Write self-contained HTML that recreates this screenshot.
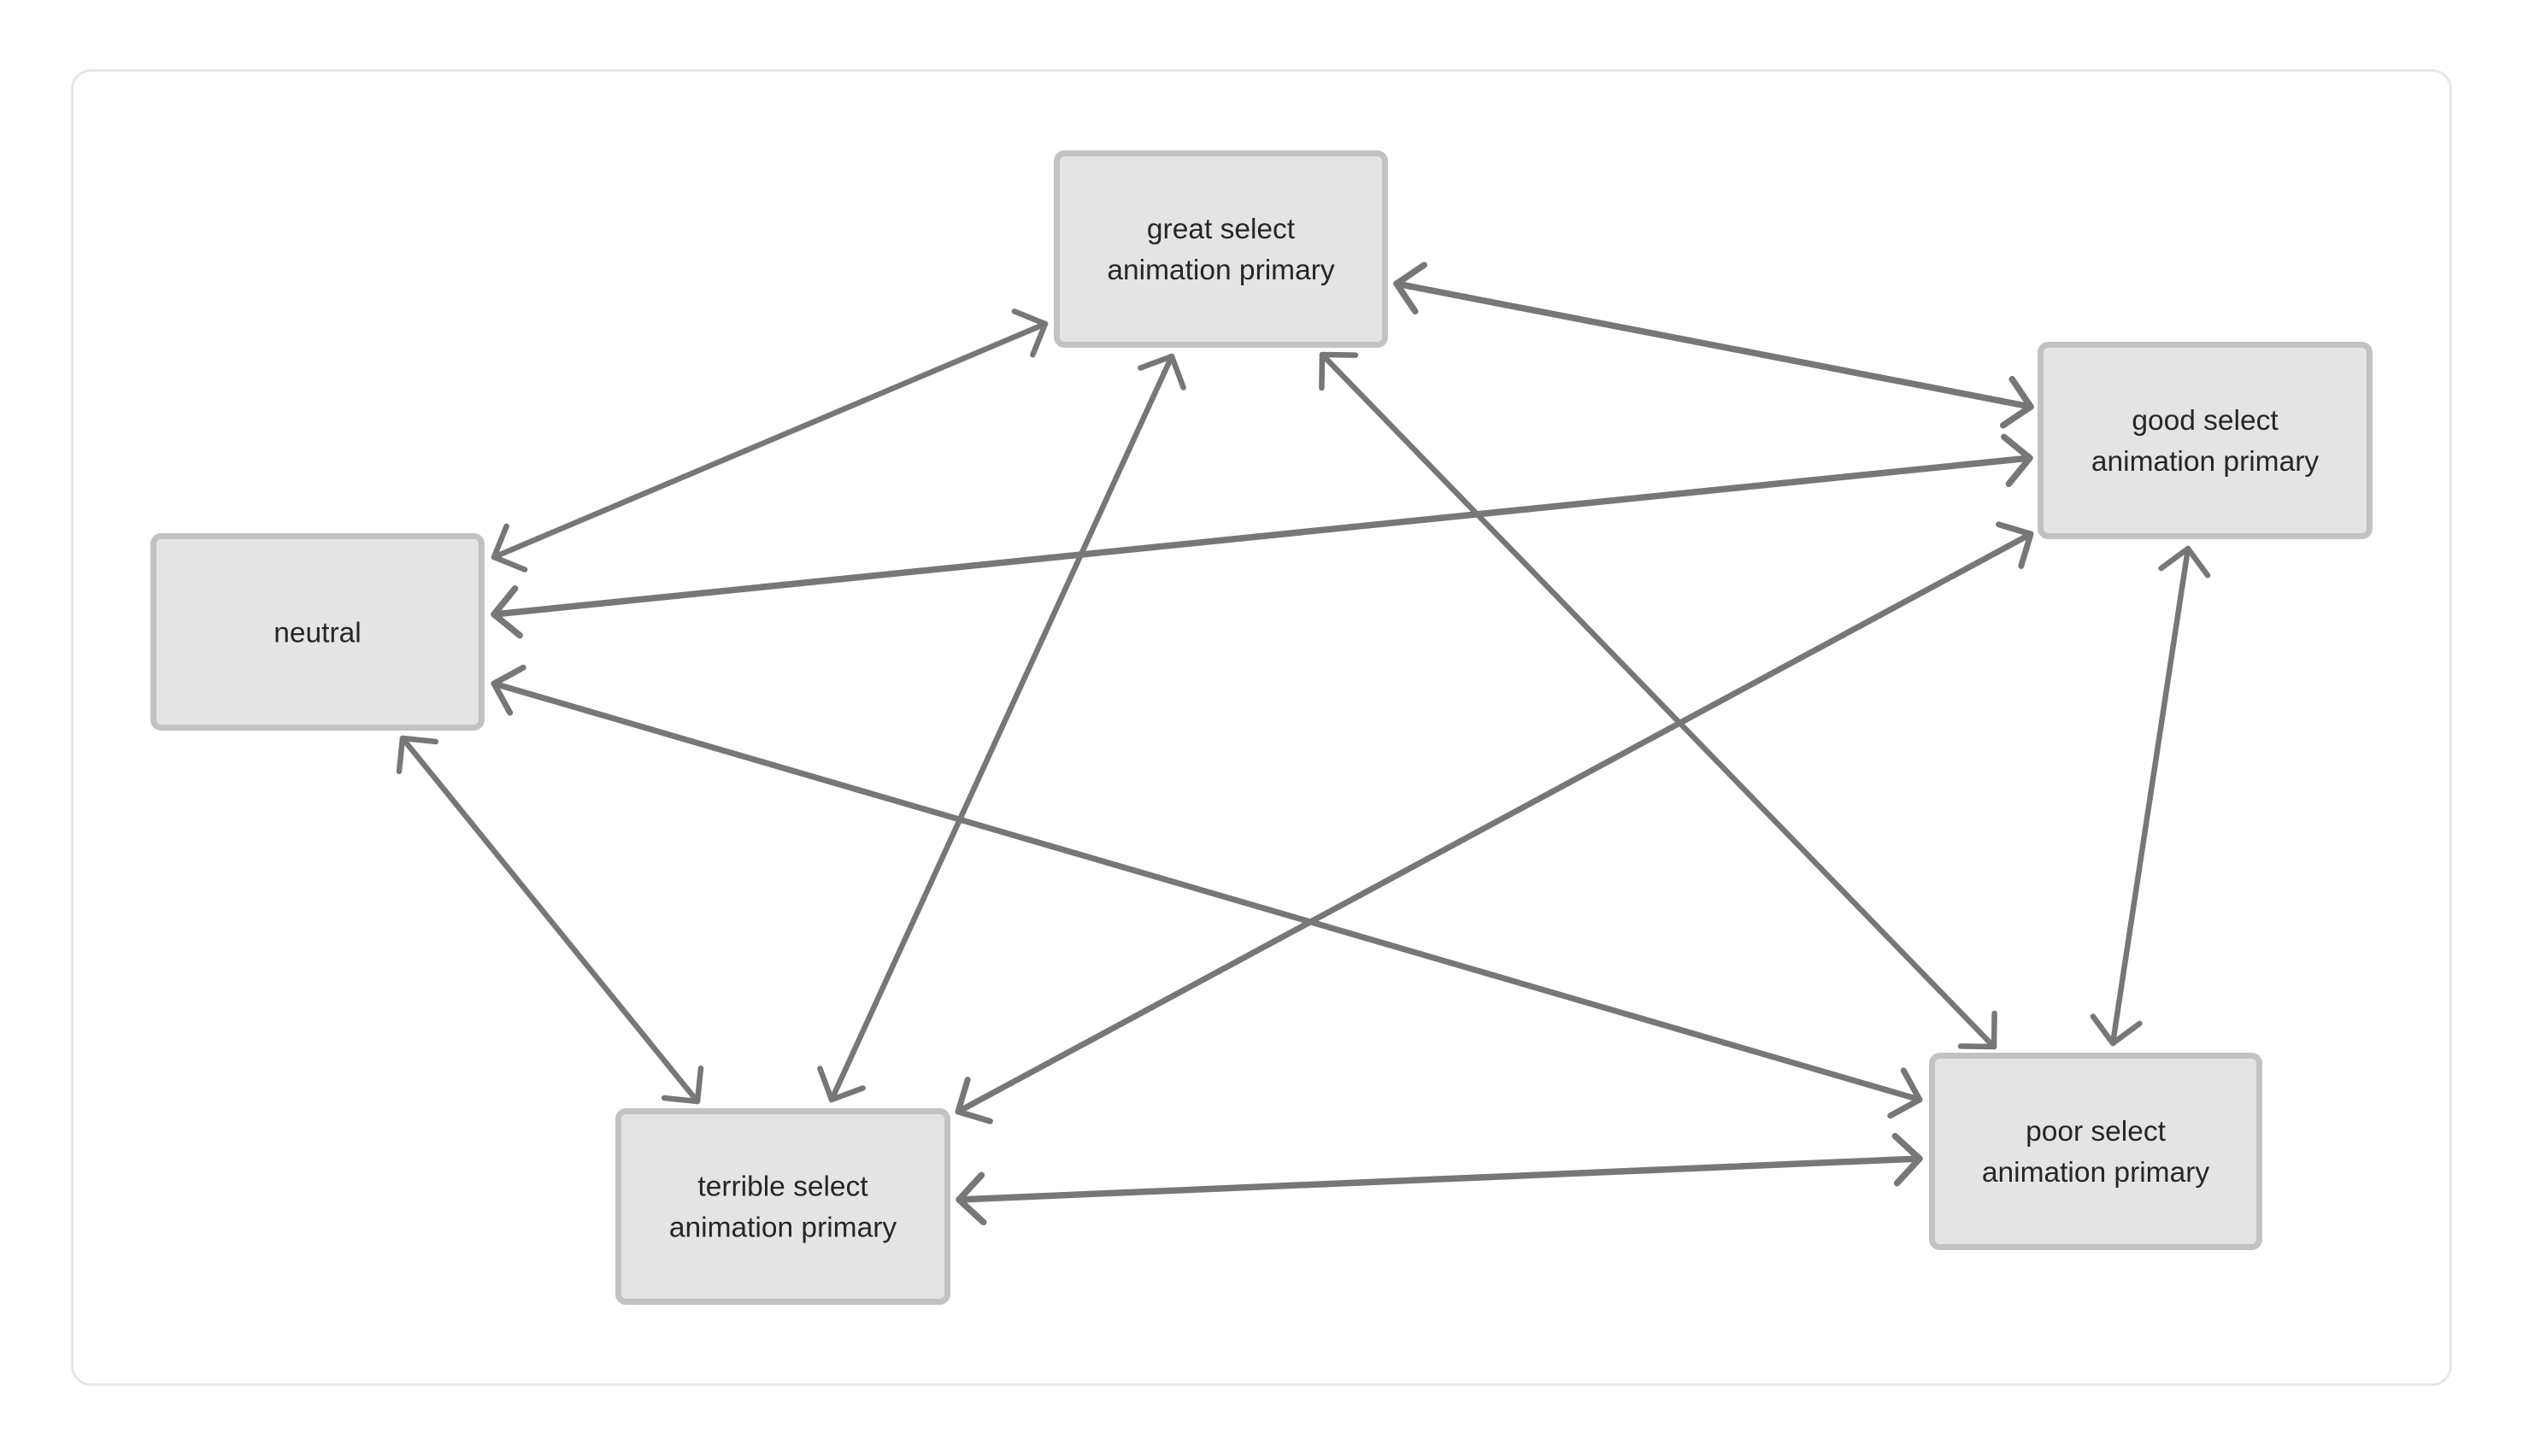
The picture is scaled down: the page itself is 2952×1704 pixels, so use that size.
<!DOCTYPE html>
<html>
<head>
<meta charset="utf-8">
<style>
  html,body{margin:0;padding:0;background:#ffffff;}
  body{width:2952px;height:1704px;overflow:hidden;}
  svg{display:block;}
  text{font-family:"Liberation Sans",Arial,sans-serif;font-size:33.5px;fill:#262626;}
</style>
</head>
<body>
<svg width="2952" height="1704" viewBox="0 0 2952 1704" xmlns="http://www.w3.org/2000/svg">
  <!-- outer frame -->
  <rect x="84.5" y="82.5" width="2783" height="1538" rx="22" ry="22" fill="#ffffff" stroke="#e7e7e7" stroke-width="3"/>

  <!-- nodes -->
  <g fill="#e4e4e4" stroke="#c2c2c2" stroke-width="7">
    <rect x="1236.5" y="179.5" width="384" height="224" rx="9"/>
    <rect x="2387.5" y="403.5" width="385" height="224" rx="9"/>
    <rect x="179.5" y="627.5" width="384" height="224" rx="9"/>
    <rect x="723.5" y="1300.5" width="385" height="223" rx="9"/>
    <rect x="2260.5" y="1235.5" width="383" height="224" rx="9"/>
  </g>

  <!-- labels -->
  <g text-anchor="middle">
    <text x="1428.5" y="279">great select</text>
    <text x="1428.5" y="327">animation primary</text>
    <text x="2580" y="503">good select</text>
    <text x="2580" y="551">animation primary</text>
    <text x="371.5" y="751.5">neutral</text>
    <text x="916" y="1399.5">terrible select</text>
    <text x="916" y="1447.5">animation primary</text>
    <text x="2452" y="1335">poor select</text>
    <text x="2452" y="1383">animation primary</text>
  </g>

  <!-- connectors -->
  <g fill="none" stroke="#777777" stroke-linecap="round" stroke-linejoin="round">
    <!-- 1 neutral <-> great -->
    <g stroke-width="6.5">
      <line x1="578" y1="652" x2="1223" y2="379"/>
      <polyline points="614.1,666.6 578,652 592.6,615.9"/>
      <polyline points="1186.9,364.4 1223,379 1208.4,415.2"/>
    </g>
    <!-- 2 great <-> good -->
    <g stroke-width="7.5">
      <line x1="1634" y1="332" x2="2376" y2="476"/>
      <polyline points="1655.8,364.3 1634,332 1666.3,310.2"/>
      <polyline points="2354.2,443.7 2376,476 2343.7,497.8"/>
    </g>
    <!-- 3 neutral <-> good -->
    <g stroke-width="7.5">
      <line x1="578" y1="719" x2="2375" y2="536"/>
      <polyline points="608.2,743.6 578,719 602.6,688.8"/>
      <polyline points="2344.8,511.4 2375,536 2350.4,566.2"/>
    </g>
    <!-- 4 neutral <-> poor -->
    <g stroke-width="7">
      <line x1="578" y1="800" x2="2246" y2="1287"/>
      <polyline points="596.7,834.2 578,800 612.2,781.3"/>
      <polyline points="2227.3,1252.8 2246,1287 2211.8,1305.7"/>
    </g>
    <!-- 5 neutral <-> terrible -->
    <g stroke-width="6.5">
      <line x1="471" y1="864" x2="816" y2="1289"/>
      <polyline points="467,902.8 471,864 509.8,868"/>
      <polyline points="820,1250.2 816,1289 777.2,1285"/>
    </g>
    <!-- 6 great <-> terrible -->
    <g stroke-width="6.5">
      <line x1="1371" y1="417" x2="973" y2="1287"/>
      <polyline points="1334.4,430.6 1371,417 1384.6,453.6"/>
      <polyline points="1009.6,1273.4 973,1287 959.4,1250.5"/>
    </g>
    <!-- 7 great <-> poor -->
    <g stroke-width="6.5">
      <line x1="1547" y1="415" x2="2333" y2="1225"/>
      <polyline points="1546.4,454 1547,415 1586,415.6"/>
      <polyline points="2333.6,1186 2333,1225 2294,1224.4"/>
    </g>
    <!-- 8 good <-> terrible -->
    <g stroke-width="7">
      <line x1="2376" y1="625" x2="1121" y2="1301"/>
      <polyline points="2338.6,613.8 2376,625 2364.8,662.4"/>
      <polyline points="1158.4,1312.2 1121,1301 1132.2,1263.6"/>
    </g>
    <!-- 9 good <-> poor -->
    <g stroke-width="6.5">
      <line x1="2560" y1="642" x2="2472" y2="1221"/>
      <polyline points="2528.6,665.1 2560,642 2583.1,673.4"/>
      <polyline points="2503.4,1197.9 2472,1221 2448.9,1189.6"/>
    </g>
    <!-- 10 terrible <-> poor -->
    <g stroke-width="7.5">
      <line x1="1122" y1="1404" x2="2246" y2="1356"/>
      <polyline points="1150.7,1430.4 1122,1404 1148.4,1375.3"/>
      <polyline points="2217.3,1329.6 2246,1356 2219.6,1384.7"/>
    </g>
  </g>
</svg>
</body>
</html>
